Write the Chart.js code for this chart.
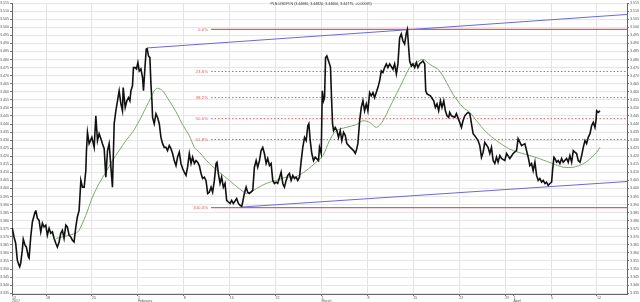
<html>
<head>
<meta charset="utf-8">
<style>
  html, body { margin: 0; padding: 0; background: #fff; }
  #chart { display: block; }
</style>
</head>
<body>
<canvas id="chart" width="640" height="302"></canvas>
<script src="https://cdn.jsdelivr.net/npm/chart.js"></script>
<script>
    // x is in trading days, 0 = the first weekly gridline (Jan 18)
    const X_MIN = -3.71;
    const X_MAX = 63.27;
    const Y_MIN = 3.3345;
    const Y_MAX = 3.515;

    const titleText = 'PLN-USDPLN (3.44680, 3.44820, 3.44600, 3.44775, +0.00095)';

    const tickDays = [-3.71, 0, 5, 10, 15, 20, 25, 30, 35, 40, 45, 50, 50.9, 55, 60];
    const tickLabels = [['12', '2017'], '18', '25', ['1', 'February'], '8', '15', '22', ['1', 'March'], '8', '15', '22', '29', ['1', 'April'], '5', '12'];
    const weeklyDays = [0, 5, 10, 15, 20, 25, 30, 35, 40, 45, 50, 55, 60];

    const priceDays = [
        -3.68, -3.49, -3.31, -3.13, -2.95, -2.87, -2.76, -2.59, -2.48, -2.29, -2.15, -1.93, -1.85, -1.67, -1.49, -1.20, -1.12, -0.95, -0.76, -0.58,
        -0.40, -0.22, -0.03, 0.14, 0.33, 0.51, 0.69, 0.87, 1.06, 1.23, 1.42, 1.60, 1.78, 1.96, 2.15, 2.32, 2.51, 2.69, 2.87, 3.05,
        3.24, 3.41, 3.60, 3.79, 3.96, 4.15, 4.33, 4.40, 4.51, 4.69, 4.99, 5.24, 5.42, 5.60, 5.78, 5.97, 6.14, 6.33, 6.51, 6.69,
        6.87, 7.23, 7.42, 7.60, 7.78, 7.96, 8.15, 8.32, 8.40, 8.62, 8.80, 8.98, 9.13, 9.24, 9.41, 9.52, 9.71, 9.85, 10.00, 10.15,
        10.33, 10.51, 10.61, 10.77, 10.91, 10.99, 11.16, 11.31, 11.42, 11.53, 11.60, 11.78, 11.97, 12.14, 12.33, 12.51, 12.69, 12.87, 13.06, 13.23,
        13.42, 13.60, 13.78, 13.96, 14.15, 14.32, 14.51, 14.69, 14.87, 15.05, 15.24, 15.41, 15.60, 15.79, 15.96, 16.15, 16.33, 16.51, 16.69, 16.88,
        17.05, 17.24, 17.42, 17.60, 17.78, 17.97, 18.14, 18.33, 18.51, 18.62, 18.76, 18.95, 19.12, 19.31, 19.49, 19.67, 19.85, 20.04, 20.21, 20.40,
        20.76, 20.95, 21.13, 21.31, 21.42, 21.60, 21.79, 21.96, 22.15, 22.51, 22.69, 22.88, 23.05, 23.24, 23.42, 23.60, 23.78, 23.97, 24.14, 24.33,
        24.51, 24.69, 24.87, 25.06, 25.23, 25.60, 25.78, 25.96, 26.15, 26.32, 26.51, 26.69, 26.87, 27.05, 27.24, 27.41, 27.60, 27.79, 27.96, 28.15,
        28.33, 28.51, 28.62, 28.77, 28.94, 29.13, 29.31, 29.67, 29.78, 29.97, 30.08, 30.22, 30.33, 30.44, 30.58, 30.76, 30.87, 30.98, 31.09, 31.20,
        31.31, 31.49, 31.67, 31.85, 32.04, 32.21, 32.40, 32.59, 32.76, 33.13, 33.49, 33.68, 33.79, 33.96, 34.15, 34.33, 34.51, 34.69, 34.88, 35.05,
        35.24, 35.42, 35.60, 35.78, 36.14, 36.33, 36.51, 36.69, 36.87, 37.06, 37.23, 37.42, 37.78, 37.96, 38.15, 38.32, 38.51, 38.69, 38.87, 39.05,
        39.24, 39.35, 39.49, 39.60, 39.79, 39.96, 40.15, 40.33, 40.50, 40.69, 41.05, 41.24, 41.35, 41.49, 41.86, 42.22, 42.40, 42.58, 42.76, 42.95,
        43.12, 43.31, 43.49, 43.67, 43.85, 43.96, 44.15, 44.51, 44.69, 45.05, 45.24, 45.41, 45.60, 45.79, 45.96, 46.15, 46.33, 46.51, 46.69, 47.05,
        47.24, 47.42, 47.60, 47.78, 48.14, 48.33, 48.51, 48.69, 48.87, 49.06, 49.23, 49.42, 49.60, 49.96, 50.15, 50.51, 50.87, 51.24, 51.41, 51.79,
        52.15, 52.33, 52.51, 52.69, 52.88, 53.05, 53.24, 53.42, 53.60, 53.78, 53.97, 54.14, 54.33, 54.51, 54.69, 54.87, 55.06, 55.16, 55.31, 55.42,
        55.60, 55.78, 55.96, 56.15, 56.32, 56.69, 56.87, 57.05, 57.24, 57.42, 57.60, 57.78, 57.96, 58.15, 58.33, 58.51, 58.69, 58.87, 59.05, 59.24,
        59.42, 59.60, 59.78, 59.89, 59.97, 60.14, 60.33
    ];
    const priceValues = [
        3.3753, 3.3699, 3.3660, 3.3555, 3.3524, 3.3514, 3.3537, 3.3617, 3.3685, 3.3648, 3.3637, 3.3576, 3.3568, 3.3699, 3.3792, 3.3854, 3.3864, 3.3815, 3.3802, 3.3730,
        3.3784, 3.3761, 3.3772, 3.3710, 3.3753, 3.3722, 3.3730, 3.3691, 3.3660, 3.3637, 3.3668, 3.3722, 3.3741, 3.3691, 3.3772, 3.3761, 3.3710, 3.3699, 3.3679, 3.3668,
        3.3761, 3.3823, 3.3864, 3.4050, 3.4008, 3.4008, 3.4111, 3.4235, 3.4348, 3.4278, 3.4317, 3.4255, 3.4451, 3.4297, 3.4340, 3.4309, 3.4278, 3.4247, 3.4070, 3.4235,
        3.4278, 3.4008, 3.4402, 3.4482, 3.4544, 3.4606, 3.4525, 3.4482, 3.4626, 3.4503, 3.4544, 3.4564, 3.4544, 3.4606, 3.4637, 3.4750, 3.4750, 3.4742, 3.4781, 3.4729,
        3.4742, 3.4688, 3.4606, 3.4750, 3.4864, 3.4872, 3.4822, 3.4812, 3.4649, 3.4544, 3.4441, 3.4402, 3.4464, 3.4441, 3.4402, 3.4317, 3.4278, 3.4255, 3.4255, 3.4235,
        3.4266, 3.4247, 3.4217, 3.4173, 3.4142, 3.4194, 3.4225, 3.4155, 3.4124, 3.4101, 3.4081, 3.4132, 3.4217, 3.4155, 3.4194, 3.4155, 3.4173, 3.4163, 3.4142, 3.4093,
        3.4062, 3.4070, 3.4050, 3.3969, 3.3977, 3.4008, 3.3977, 3.4050, 3.4155, 3.4163, 3.4093, 3.4031, 3.4070, 3.4008, 3.4031, 3.3926, 3.3916, 3.3907, 3.3926, 3.3907,
        3.3937, 3.3907, 3.3895, 3.3889, 3.3916, 3.3969, 3.4008, 3.3977, 3.3969, 3.3988, 3.4132, 3.4173, 3.4132, 3.4173, 3.4235, 3.4255, 3.4217, 3.4155, 3.4186, 3.4142,
        3.4155, 3.4050, 3.4031, 3.4039, 3.4031, 3.4101, 3.4031, 3.4008, 3.4050, 3.4081, 3.4093, 3.4050, 3.4081, 3.4062, 3.4070, 3.4050, 3.4070, 3.4173, 3.4255, 3.4317,
        3.4297, 3.4390, 3.4402, 3.4297, 3.4217, 3.4173, 3.4194, 3.4173, 3.4255, 3.4217, 3.4606, 3.4544, 3.4564, 3.4812, 3.4822, 3.4791, 3.4773, 3.4750, 3.4564, 3.4402,
        3.4359, 3.4379, 3.4359, 3.4317, 3.4359, 3.4297, 3.4348, 3.4328, 3.4278, 3.4255, 3.4235, 3.4217, 3.4235, 3.4278, 3.4420, 3.4503, 3.4544, 3.4482, 3.4525, 3.4482,
        3.4595, 3.4575, 3.4595, 3.4564, 3.4626, 3.4668, 3.4729, 3.4719, 3.4750, 3.4773, 3.4750, 3.4773, 3.4740, 3.4773, 3.4711, 3.4773, 3.4935, 3.4958, 3.4915, 3.4896,
        3.4966, 3.4987, 3.4873, 3.4791, 3.4760, 3.4773, 3.4750, 3.4781, 3.4750, 3.4773, 3.4791, 3.4773, 3.4606, 3.4587, 3.4575, 3.4544, 3.4503, 3.4525, 3.4482, 3.4544,
        3.4503, 3.4544, 3.4482, 3.4451, 3.4441, 3.4472, 3.4451, 3.4441, 3.4464, 3.4410, 3.4379, 3.4420, 3.4451, 3.4464, 3.4472, 3.4464, 3.4402, 3.4340, 3.4328, 3.4297,
        3.4266, 3.4194, 3.4225, 3.4286, 3.4255, 3.4217, 3.4255, 3.4173, 3.4155, 3.4194, 3.4163, 3.4204, 3.4186, 3.4173, 3.4217, 3.4186, 3.4217, 3.4235, 3.4309, 3.4266,
        3.4278, 3.4235, 3.4194, 3.4142, 3.4155, 3.4111, 3.4163, 3.4081, 3.4050, 3.4062, 3.4039, 3.4050, 3.4031, 3.4039, 3.4019, 3.4031, 3.4039, 3.4111, 3.4194, 3.4186,
        3.4163, 3.4173, 3.4155, 3.4186, 3.4163, 3.4186, 3.4163, 3.4204, 3.4163, 3.4235, 3.4225, 3.4217, 3.4173, 3.4163, 3.4204, 3.4255, 3.4297, 3.4278, 3.4317, 3.4340,
        3.4390, 3.4410, 3.4379, 3.4420, 3.4482, 3.4472, 3.4482
    ];

    // moving average (green)
    const smaDays = [
        1.06, 3.24, 3.60, 4.33, 5.05, 5.78, 6.51, 7.23, 7.96, 8.69, 9.41, 10.15, 10.88, 11.42, 11.78, 12.14, 12.69, 13.42, 14.15, 14.87,
        15.60, 16.15, 16.69, 17.78, 18.87, 19.96, 21.05, 21.79, 22.15, 22.88, 23.97, 25.06, 26.15, 27.24, 28.33, 29.42, 30.15, 30.87, 31.60, 32.69,
        33.79, 34.51, 35.24, 35.97, 36.69, 37.42, 38.15, 38.87, 39.60, 40.33, 41.05, 41.78, 42.87, 44.32, 45.41, 46.15, 46.88, 47.97, 49.06, 50.15,
        50.87, 52.69, 53.78, 55.24, 56.32, 57.42, 58.51, 59.24, 59.97, 60.33
    ];
    const smaValues = [
        3.3689, 3.3722, 3.3741, 3.3833, 3.3946, 3.4031, 3.4101, 3.4173, 3.4235, 3.4297, 3.4348, 3.4420, 3.4503, 3.4564, 3.4606, 3.4622, 3.4606, 3.4544, 3.4476, 3.4396,
        3.4328, 3.4255, 3.4225, 3.4155, 3.4101, 3.4050, 3.3998, 3.3969, 3.3971, 3.3998, 3.4031, 3.4050, 3.4070, 3.4074, 3.4111, 3.4163, 3.4204, 3.4297, 3.4359, 3.4379,
        3.4396, 3.4420, 3.4410, 3.4379, 3.4420, 3.4503, 3.4585, 3.4668, 3.4750, 3.4781, 3.4802, 3.4771, 3.4729, 3.4585, 3.4503, 3.4472, 3.4420, 3.4348, 3.4297, 3.4255,
        3.4235, 3.4204, 3.4184, 3.4153, 3.4132, 3.4132, 3.4153, 3.4184, 3.4225, 3.4255
    ];

    // fibonacci retracement levels, drawn from the February low onwards
    const fibStartDay = 17.97;
    const fibLabels = ['0.0%', '23.6%', '38.2%', '50.0%', '61.8%', '100.0%'];
    const fibValues = [3.4987, 3.4726, 3.4564, 3.4433, 3.4304, 3.3881];

    // channel lines
    const upperDays = [10.99, 63.27];
    const upperValues = [3.4872, 3.5080];
    const lowerDays = [21.38, 63.27];
    const lowerValues = [3.3885, 3.4043];

    const FONT = 'Liberation Sans';
    const RED = '#e65a5a';
    const toPoints = (xs, ys) => xs.map((x, i) => ({ x: x, y: ys[i] }));

    const datasets = [
        {
            label: 'price',
            data: toPoints(priceDays, priceValues),
            borderColor: '#111111',
            borderWidth: 1.6,
            pointRadius: 0,
            tension: 0,
            order: 0
        },
        {
            label: 'sma',
            data: toPoints(smaDays, smaValues),
            borderColor: '#7da573',
            borderWidth: 1,
            pointRadius: 0,
            tension: 0.3,
            order: 1
        },
        {
            label: 'upper',
            data: toPoints(upperDays, upperValues),
            borderColor: '#6969e1',
            borderWidth: 1,
            pointRadius: 0,
            order: 2
        },
        {
            label: 'lower',
            data: toPoints(lowerDays, lowerValues),
            borderColor: '#6969e1',
            borderWidth: 1,
            pointRadius: 0,
            order: 2
        }
    ];

    for (let i = 0; i < fibValues.length; i++) {
        const solid = i === 0 || i === fibValues.length - 1;
        datasets.push({
            label: 'fib ' + fibLabels[i],
            data: [{ x: fibStartDay, y: fibValues[i] }, { x: X_MAX, y: fibValues[i] }],
            borderColor: RED,
            backgroundColor: RED,
            borderWidth: solid ? 1.2 : 1,
            borderDash: solid ? [] : [1.5, 2],
            pointRadius: 0,
            fill: false,
            order: 3
        });
    }

    // small text the library has no slot for: title and fib labels
    const overlayText = {
        id: 'overlayText',
        afterDatasetsDraw(chart) {
            const { ctx, scales } = chart;
            ctx.save();
            ctx.font = `3.6px "${FONT}"`;
            ctx.fillStyle = '#333';
            ctx.textAlign = 'center';
            ctx.textBaseline = 'middle';
            ctx.fillText(titleText, 321, 4);

            ctx.font = `4.4px "${FONT}"`;
            ctx.fillStyle = RED;
            ctx.textAlign = 'right';
            const x = scales.x.getPixelForValue(fibStartDay) - 3;
            fibValues.forEach((v, i) => {
                ctx.fillText(fibLabels[i], x, scales.y.getPixelForValue(v));
            });
            ctx.restore();
        }
    };

    const yTicks = {
        stepSize: 0.005,
        includeBounds: false,
        padding: 1,
        color: '#555',
        font: { family: FONT, size: 3.6 },
        callback: v => v.toFixed(3)
    };

    new Chart(document.getElementById('chart'), {
        type: 'line',
        data: { datasets },
        options: {
            responsive: false,
            animation: false,
            layout: { padding: { top: 2, left: 0, right: 0, bottom: 0 } },
            plugins: {
                legend: { display: false },
                tooltip: { enabled: false },
                colors: { enabled: false }
            },
            scales: {
                x: {
                    type: 'linear',
                    min: X_MIN,
                    max: X_MAX,
                    afterBuildTicks: s => { s.ticks = tickDays.map(v => ({ value: v })); },
                    afterFit: s => { s.height = 8; },
                    ticks: {
                        autoSkip: false,
                        maxRotation: 0,
                        align: 'start',
                        padding: 0,
                        color: '#555',
                        font: { family: FONT, size: 3.6, lineHeight: 1 },
                        callback: (v, i) => tickLabels[i]
                    },
                    grid: {
                        color: ctx => (ctx.tick && weeklyDays.includes(ctx.tick.value)) ? '#e3e3e3' : 'rgba(0,0,0,0)',
                        tickColor: '#777',
                        tickLength: 2
                    },
                    border: { color: '#666' }
                },
                y: {
                    position: 'left',
                    min: Y_MIN,
                    max: Y_MAX,
                    afterFit: s => { s.width = 12; },
                    ticks: yTicks,
                    grid: { color: '#e6e6e6', tickColor: '#777', tickLength: 2 },
                    border: { color: '#666' }
                },
                y2: {
                    position: 'right',
                    min: Y_MIN,
                    max: Y_MAX,
                    afterFit: s => { s.width = 13; },
                    ticks: yTicks,
                    grid: { drawOnChartArea: false, tickColor: '#777', tickLength: 2 },
                    border: { color: '#666' }
                }
            }
        },
        plugins: [overlayText]
    });
</script>
</body>
</html>
